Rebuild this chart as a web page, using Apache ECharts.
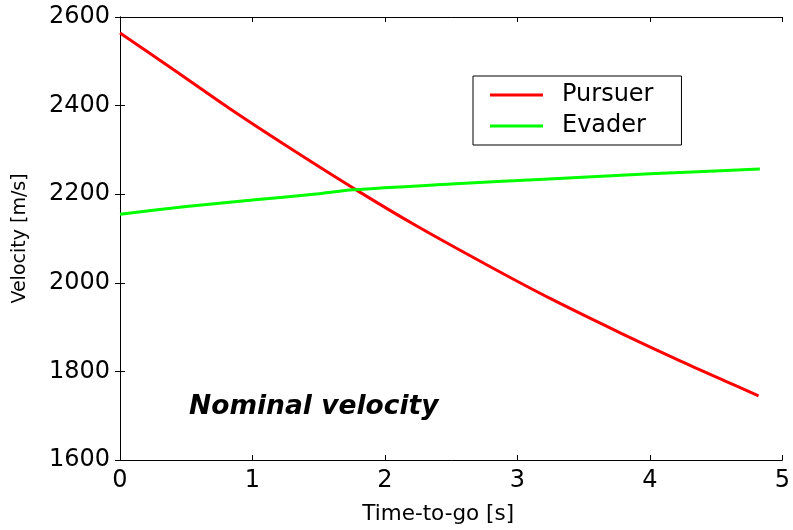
<!DOCTYPE html>
<html><head><meta charset="utf-8">
<script src="https://cdn.jsdelivr.net/npm/echarts@6/dist/echarts.min.js"></script>
<style>html,body{margin:0;padding:0;background:#fff}#c{width:793px;height:530px}</style>
</head><body><div id="c"></div>
<script>
// Data
var pursuerT = [0, 0.4, 0.824, 1.273, 1.798, 2.247, 2.809, 3.258, 3.783, 4.232, 4.569, 4.82];
var pursuerV = [2564, 2482, 2394, 2306, 2207, 2127, 2034, 1963, 1886, 1823, 1778, 1745];
var evaderT = [0, 0.5, 1, 1.5, 1.76, 2.5, 3.2, 4, 4.83];
var evaderV = [2155, 2172, 2187, 2201, 2210, 2223, 2234, 2246, 2257];
var xTicks = {min: 0, max: 5, interval: 1};
var yTicks = {min: 1600, max: 2600, interval: 200};
var seriesNames = ['Pursuer', 'Evader'];
var annotation = 'Nominal velocity';

function pairs(t, v) { return t.map(function (x, i) { return [x, v[i]]; }); }
var FONT = 'DejaVu Sans';
var axisLine = {show: true, lineStyle: {color: '#000', width: 1}};
var tick = {show: true, inside: true, length: 5, lineStyle: {color: '#000'}};
function plain(v) { return String(v); }

var chart = echarts.init(document.getElementById('c'));
chart.setOption({
  animation: false,
  backgroundColor: '#fff',
  grid: {left: 120, right: 6, top: 17, bottom: 63, containLabel: false},
  xAxis: [{
    type: 'value', min: xTicks.min, max: xTicks.max, interval: xTicks.interval,
    axisLine: axisLine, axisTick: tick, splitLine: {show: false},
    axisLabel: {fontFamily: FONT, fontSize: 24, color: '#000', margin: 9, formatter: plain},
    name: 'Time-to-go [s]', nameLocation: 'middle', nameGap: 43,
    nameTextStyle: {fontFamily: FONT, fontSize: 21.5, color: '#000', padding: [0, 26, 0, 0]}
  }, {
    type: 'value', position: 'top', min: xTicks.min, max: xTicks.max, interval: xTicks.interval,
    axisLine: axisLine, axisTick: tick, splitLine: {show: false}, axisLabel: {show: false}
  }],
  yAxis: [{
    type: 'value', min: yTicks.min, max: yTicks.max, interval: yTicks.interval,
    axisLine: axisLine, axisTick: tick, splitLine: {show: false},
    axisLabel: {fontFamily: FONT, fontSize: 24, color: '#000', margin: 10, formatter: plain},
    name: 'Velocity [m/s]', nameLocation: 'middle', nameGap: 90,
    nameTextStyle: {fontFamily: FONT, fontSize: 19, color: '#000'}
  }, {
    type: 'value', position: 'right', min: yTicks.min, max: yTicks.max, interval: yTicks.interval,
    axisLine: axisLine, axisTick: tick, splitLine: {show: false}, axisLabel: {show: false}
  }],
  legend: {
    orient: 'vertical', left: 473, top: 76,
    backgroundColor: '#fff', borderColor: '#000', borderWidth: 1,
    padding: [7, 28, 7, 17], itemGap: 7,
    itemWidth: 53, itemHeight: 3, icon: 'rect',
    textStyle: {fontFamily: FONT, fontSize: 24, color: '#000', padding: [0, 0, 0, 14]},
    data: seriesNames
  },
  series: [{
    name: seriesNames[0], type: 'line', data: pairs(pursuerT, pursuerV),
    showSymbol: false, smooth: 0.3, lineStyle: {color: '#ff0000', width: 3}, itemStyle: {color: '#ff0000'}
  }, {
    name: seriesNames[1], type: 'line', data: pairs(evaderT, evaderV),
    showSymbol: false, smooth: 0.3, lineStyle: {color: '#00ff00', width: 3}, itemStyle: {color: '#00ff00'}
  }],
  graphic: [{
    type: 'text', left: 189, top: 394,
    style: {text: annotation, fontFamily: FONT, fontSize: 26.5, fontWeight: 'bold', fontStyle: 'italic', fill: '#000'}
  }]
});
</script></body></html>
